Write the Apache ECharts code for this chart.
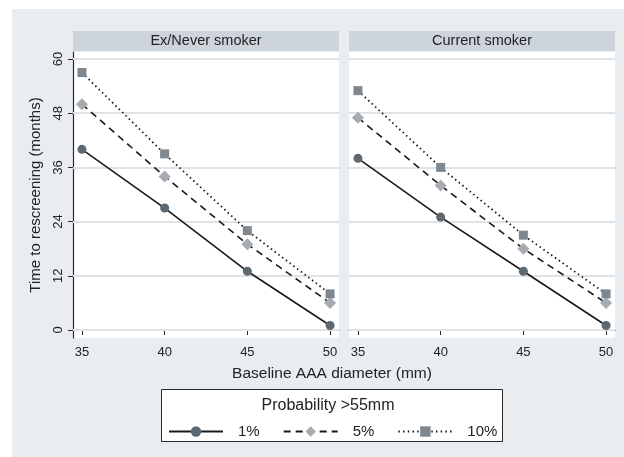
<!DOCTYPE html>
<html>
<head>
<meta charset="utf-8">
<script src="https://cdn.jsdelivr.net/npm/echarts@6/dist/echarts.min.js"></script>
<style>
html,body{margin:0;padding:0;background:#fff;}
#bg{position:absolute;left:12px;top:9px;width:612px;height:448px;background:#eaedf0;}
#chart{position:absolute;left:0;top:0;width:624px;height:457px;}
</style>
</head>
<body>
<div id="bg"></div>
<div id="chart"></div>
<script>
// ---- data ----
const diameters = [35, 40, 45, 50];
const panels = ['Ex/Never smoker', 'Current smoker'];
const seriesNames = ['1%', '5%', '10%'];
const yTicks = [0, 12, 24, 36, 48, 60];
const xTicks = [35, 40, 45, 50];
// Ex/Never smoker
const exNever1 = [40, 27, 13, 1];
const exNever5 = [50, 34, 19, 6];
const exNever10 = [57, 39, 22, 8];
// Current smoker
const current1 = [38, 25, 13, 1];
const current5 = [47, 32, 18, 6];
const current10 = [53, 36, 21, 8];
const legendTitle = 'Probability >55mm';
const xTitle = 'Baseline AAA diameter (mm)';
const yTitle = 'Time to rescreening (months)';

const panelData = [[exNever1, exNever5, exNever10], [current1, current5, current10]];

const styles = [
  {symbol: 'circle', symbolSize: 9, color: '#5d6870', type: 'solid', width: 1.6},
  {symbol: 'diamond', symbolSize: 12, color: '#a7acb2', type: [7, 5], width: 1.6},
  {symbol: 'rect', symbolSize: 9, color: '#7f878f', type: [1.5, 3.2], width: 1.8}
];

const chart = echarts.init(document.getElementById('chart'), null, {renderer: 'canvas'});

const gridLefts = [73, 349];
const grids = gridLefts.map(l => ({left: l, top: 52, width: 266, height: 286, show: true, backgroundColor: '#ffffff', borderWidth: 0}));

const xAxes = grids.map((g, i) => ({
  type: 'value', gridIndex: i, min: 34.46, max: 50.54,
  axisLine: {show: true, lineStyle: {color: '#2a2a2a', width: 1.2}},
  axisTick: {show: true, length: 5, customValues: xTicks, lineStyle: {color: '#2a2a2a'}},
  axisLabel: {show: true, customValues: xTicks, fontSize: 13, color: '#222', margin: 8, fontFamily: 'Liberation Sans'},
  splitLine: {show: false}
}));

const yAxes = grids.map((g, i) => ({
  type: 'value', gridIndex: i, min: -1.77, max: 61.55,
  axisLine: {show: i === 0, lineStyle: {color: '#2a2a2a', width: 1.2}},
  axisTick: {show: i === 0, length: 5, customValues: yTicks, lineStyle: {color: '#2a2a2a'}},
  axisLabel: {show: i === 0, customValues: yTicks, rotate: 90, fontSize: 13, color: '#222', margin: 8, fontFamily: 'Liberation Sans'},
  splitLine: {show: false},
  name: i === 0 ? yTitle : '',
  nameLocation: 'middle', nameGap: 30,
  nameTextStyle: {fontSize: 15, color: '#222', fontFamily: 'Liberation Sans'}
}));

const series = [];
grids.forEach((g, gi) => {
  // horizontal grid lines
  series.push({
    type: 'line', name: 'grid' + gi, xAxisIndex: gi, yAxisIndex: gi,
    data: [[-100, -100]], showSymbol: false, lineStyle: {opacity: 0}, z: 0, clip: true,
    markLine: {
      silent: true, symbol: ['none', 'none'], label: {show: false}, z: 1, animation: false,
      lineStyle: {color: '#dfe2e6', width: 2, type: 'solid'},
      emphasis: {disabled: true},
      data: yTicks.map(v => ({yAxis: v}))
    }
  });
  seriesNames.forEach((nm, si) => {
    const st = styles[si];
    series.push({
      type: 'line', name: nm, xAxisIndex: gi, yAxisIndex: gi,
      data: diameters.map((d, k) => [d, panelData[gi][si][k]]),
      symbol: st.symbol, symbolSize: st.symbolSize, showAllSymbol: true,
      itemStyle: {color: st.color},
      lineStyle: {color: '#1a1a1a', width: st.width, type: st.type},
      emphasis: {disabled: true}, animation: false, clip: false, z: 3
    });
  });
});

const graphic = [];
panels.forEach((p, i) => {
  graphic.push({type: 'rect', shape: {x: gridLefts[i], y: 31, width: 266, height: 20}, style: {fill: '#ced4dc'}});
  graphic.push({type: 'text', x: gridLefts[i] + 133, y: 41, style: {text: p, fill: '#222', font: '14.5px "Liberation Sans"', textAlign: 'center', textVerticalAlign: 'middle'}});
});
graphic.push({type: 'text', x: 332, y: 374, style: {text: xTitle, fill: '#222', font: '15.5px "Liberation Sans"', textAlign: 'center', textVerticalAlign: 'middle'}});
graphic.push({type: 'rect', shape: {x: 161.5, y: 389.5, width: 341, height: 52}, style: {fill: '#ffffff', stroke: '#2a2a2a', lineWidth: 1}, z: -1});
graphic.push({type: 'text', x: 328, y: 405.5, style: {text: legendTitle, fill: '#222', font: '16px "Liberation Sans"', textAlign: 'center', textVerticalAlign: 'middle'}});

chart.setOption({
  animation: false,
  grid: grids,
  xAxis: xAxes,
  yAxis: yAxes,
  series: series,
  graphic: graphic,
  legend: {
    data: seriesNames, left: 163, top: 419, orient: 'horizontal',
    itemWidth: 54, itemHeight: 13, itemGap: 23,
    textStyle: {fontSize: 15, color: '#222', fontFamily: 'Liberation Sans', padding: [0, 0, 0, 10]},
    selectedMode: false
  }
});
</script>
</body>
</html>
